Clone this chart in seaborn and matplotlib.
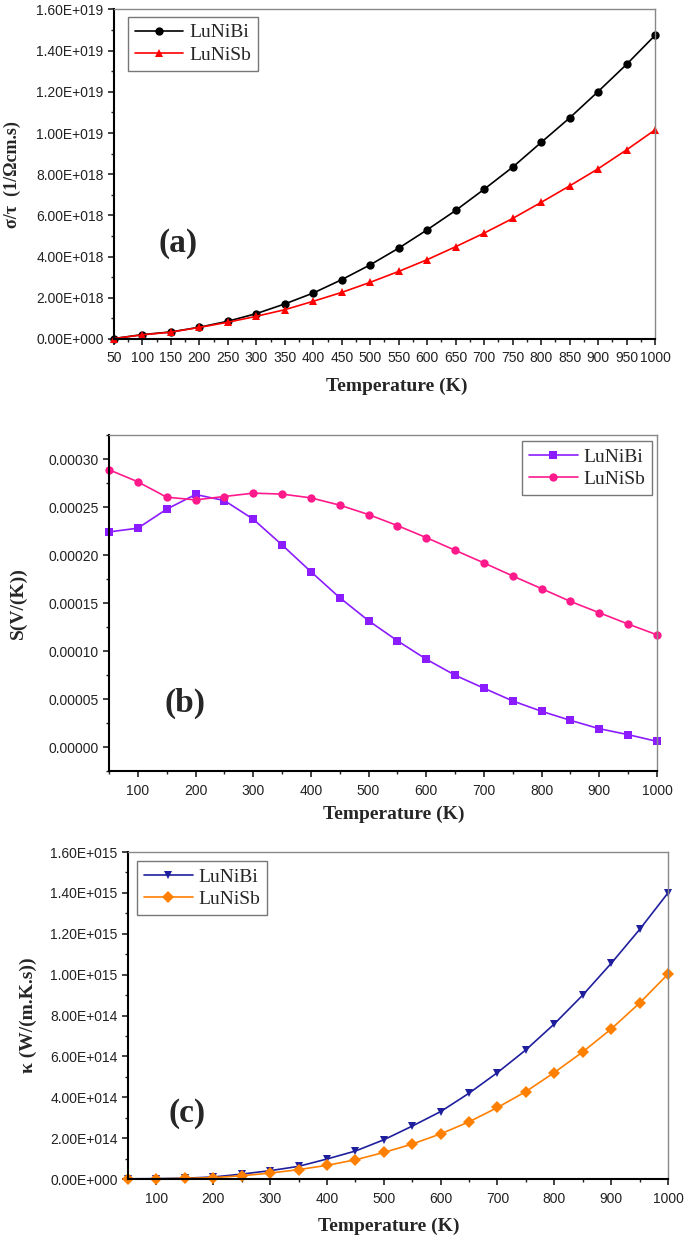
import numpy as np
import pandas as pd
import matplotlib
matplotlib.use("Agg")
import matplotlib.pyplot as plt
from matplotlib.ticker import MultipleLocator, FuncFormatter
import seaborn as sns

# ------------------ DATA ------------------
temps = [50, 100, 150, 200, 250, 300, 350, 400, 450, 500,
         550, 600, 650, 700, 750, 800, 850, 900, 950, 1000]
materials = ["LuNiBi", "LuNiSb"]

# sigma/tau in units of 1e18
sigma_bi = [0.02, 0.21, 0.34, 0.57, 0.86, 1.23, 1.70, 2.23, 2.88, 3.60,
            4.41, 5.30, 6.24, 7.27, 8.34, 9.54, 10.73, 12.01, 13.33, 14.74]
sigma_sb = [0.02, 0.20, 0.33, 0.56, 0.81, 1.10, 1.42, 1.83, 2.26, 2.75,
            3.28, 3.85, 4.48, 5.14, 5.85, 6.63, 7.43, 8.26, 9.18, 10.15]

# Seebeck in units of 1e-4 V/K
seebeck_bi = [2.241, 2.280, 2.478, 2.631, 2.568, 2.374, 2.106, 1.827, 1.556, 1.316,
              1.107, 0.915, 0.748, 0.613, 0.480, 0.372, 0.278, 0.191, 0.129, 0.059]
seebeck_sb = [2.889, 2.763, 2.603, 2.575, 2.610, 2.645, 2.635, 2.596, 2.520, 2.422,
              2.307, 2.182, 2.050, 1.918, 1.782, 1.650, 1.517, 1.399, 1.281, 1.169]

# kappa in units of 1e14
kappa_bi = [0.01, 0.02, 0.04, 0.10, 0.24, 0.41, 0.62, 0.98, 1.37, 1.92,
            2.59, 3.30, 4.20, 5.21, 6.32, 7.59, 9.00, 10.55, 12.21, 14.00]
kappa_sb = [0.00, 0.01, 0.03, 0.07, 0.16, 0.29, 0.46, 0.67, 0.94, 1.30,
            1.71, 2.21, 2.80, 3.50, 4.28, 5.21, 6.22, 7.34, 8.61, 10.03]


def long_df(bi, sb, scale):
    return pd.DataFrame({
        "T": temps * 2,
        "val": [v * scale for v in bi] + [v * scale for v in sb],
        "mat": [materials[0]] * len(temps) + [materials[1]] * len(temps),
    })


df_a = long_df(sigma_bi, sigma_sb, 1e18)
df_b = long_df(seebeck_bi, seebeck_sb, 1e-4)
df_c = long_df(kappa_bi, kappa_sb, 1e14)

# ------------------ STYLE ------------------
sns.set_style("ticks")
plt.rcParams["font.family"] = ["Liberation Sans", "DejaVu Sans"]
plt.rcParams["xtick.color"] = "#222222"
plt.rcParams["ytick.color"] = "#222222"

serif = ["Liberation Serif", "DejaVu Serif"]


def sci_fmt(v, pos):
    if v <= 0:
        return "0.00E+000"
    e = int(np.floor(np.log10(v) + 1e-9))
    return f"{v / 10**e:.2f}E+{e:03d}"


def style_axes(ax, ylabel, ylab_size, ylab_x, xlab_xy, panel, panel_xy):
    ax.set_xlim(50, 1000)
    for s in ["top", "right"]:
        ax.spines[s].set_color("#888888")
        ax.spines[s].set_linewidth(1.0)
    for s in ["left", "bottom"]:
        ax.spines[s].set_color("black")
        ax.spines[s].set_linewidth(1.5)
    ax.tick_params(which="major", direction="out", length=4, width=1.2,
                   labelsize=10, top=False, right=False)
    ax.tick_params(axis="x", which="major", pad=5)
    ax.tick_params(which="minor", direction="out", length=2.5, width=1.0,
                   top=False, right=False)
    ax.set_xlabel("Temperature (K)", fontfamily=serif, fontweight="bold", fontsize=14)
    ax.set_ylabel(ylabel, fontfamily=serif, fontweight="bold", fontsize=ylab_size)
    ax.xaxis.set_label_coords(*xlab_xy)
    ax.yaxis.set_label_coords(ylab_x, 0.5)
    ax.text(panel_xy[0], panel_xy[1], panel, transform=ax.transAxes,
            fontfamily=serif, fontweight="bold", fontsize=24,
            ha="center", va="center")


def legend(ax, loc, anchor):
    leg = ax.legend(loc=loc, bbox_to_anchor=anchor, borderaxespad=0,
                    frameon=True, fancybox=False, edgecolor="#555555",
                    prop={"family": serif, "size": 14}, handlelength=2.5,
                    handletextpad=0.3, labelspacing=0.25, borderpad=0.35,
                    title=None)
    leg.get_frame().set_linewidth(1.0)


fig = plt.figure(figsize=(6.85, 12.42), dpi=100)
ax_a = fig.add_axes([0.1664, 0.7271, 0.7898, 0.2653])
ax_b = fig.add_axes([0.1591, 0.3792, 0.8000, 0.2705])
ax_c = fig.add_axes([0.1869, 0.0507, 0.7883, 0.2633])

# ------------------ (a) ------------------
sns.lineplot(data=df_a, x="T", y="val", hue="mat", style="mat",
             palette={"LuNiBi": "black", "LuNiSb": "#ff0000"},
             markers={"LuNiBi": "o", "LuNiSb": "^"}, dashes=False,
             markersize=6, markeredgewidth=0, linewidth=1.2, ax=ax_a)
ax_a.set_ylim(0, 1.6e19)
ax_a.xaxis.set_major_locator(MultipleLocator(50))
ax_a.xaxis.set_minor_locator(MultipleLocator(25))
ax_a.yaxis.set_major_locator(MultipleLocator(2e18))
ax_a.yaxis.set_minor_locator(MultipleLocator(1e18))
ax_a.yaxis.set_major_formatter(FuncFormatter(sci_fmt))
style_axes(ax_a, "σ/τ  (1/Ωcm.s)", 13, -0.172, (0.523, -0.118),
           "(a)", (0.118, 0.291))
legend(ax_a, "upper left", (0.026, 0.977))

# ------------------ (b) ------------------
sns.lineplot(data=df_b, x="T", y="val", hue="mat", style="mat",
             palette={"LuNiBi": "#8a1cff", "LuNiSb": "#ff1a8c"},
             markers={"LuNiBi": "s", "LuNiSb": "o"}, dashes=False,
             markersize=6, markeredgewidth=0, linewidth=1.2, ax=ax_b)
ax_b.set_ylim(-0.000025, 0.000325)
ax_b.xaxis.set_major_locator(MultipleLocator(100))
ax_b.xaxis.set_minor_locator(MultipleLocator(50))
ax_b.yaxis.set_major_locator(MultipleLocator(0.00005))
ax_b.yaxis.set_minor_locator(MultipleLocator(0.000025))
ax_b.yaxis.set_major_formatter(FuncFormatter(lambda v, p: f"{v:.5f}"))
style_axes(ax_b, "S(V/(K))", 14, -0.150, (0.52, -0.104),
           "(b)", (0.139, 0.202))
legend(ax_b, "upper right", (0.991, 0.982))

# ------------------ (c) ------------------
sns.lineplot(data=df_c, x="T", y="val", hue="mat", style="mat",
             palette={"LuNiBi": "#1f1f9e", "LuNiSb": "#ff8000"},
             markers={"LuNiBi": "v", "LuNiSb": "D"}, dashes=False,
             markersize=6, markeredgewidth=0, linewidth=1.2, ax=ax_c)
ax_c.set_ylim(0, 1.6e15)
ax_c.xaxis.set_major_locator(MultipleLocator(100))
ax_c.xaxis.set_minor_locator(MultipleLocator(50))
ax_c.yaxis.set_major_locator(MultipleLocator(2e14))
ax_c.yaxis.set_minor_locator(MultipleLocator(1e14))
ax_c.yaxis.set_major_formatter(FuncFormatter(sci_fmt))
style_axes(ax_c, "κ (W/(m.K.s))", 14, -0.169, (0.483, -0.119),
           "(c)", (0.109, 0.20))
legend(ax_c, "upper left", (0.017, 0.972))

for ax in (ax_a, ax_b, ax_c):
    for line in ax.lines:
        line.set_clip_on(False)

fig.savefig("out.png", dpi=100)
